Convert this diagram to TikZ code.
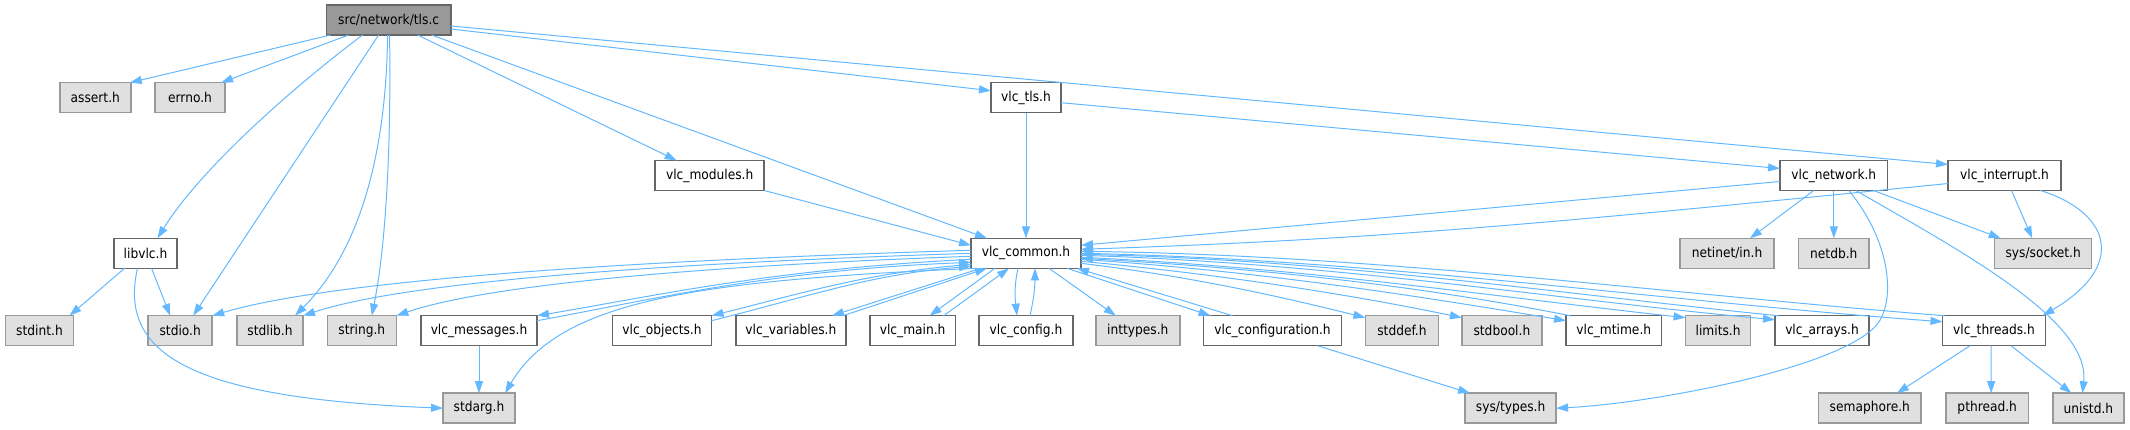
\documentclass[tikz,border=0pt]{standalone}
\usepackage{fontspec}
\setmainfont{DejaVu Sans Condensed}
\usepackage{tikz}
\usetikzlibrary{arrows.meta,calc}
\definecolor{edgeBlue}{HTML}{63B8FF}
\definecolor{boxGray}{HTML}{666666}
\definecolor{sysGray}{HTML}{999999}
\definecolor{sysFill}{HTML}{E0E0E0}

\begin{document}
\begin{tikzpicture}[x=0.75pt, y=-0.75pt,
  font=\fontsize{10.2}{12}\selectfont,
  box/.style={draw, line width=1.1pt, minimum height=22.5pt, inner sep=0pt, outer sep=0pt, minimum width=#1*0.75pt},
  hdr/.style={box=#1, fill=white, draw=boxGray},
  sys/.style={box=#1, fill=sysFill, draw=sysGray},
  src/.style={box=#1, fill=sysGray, draw=boxGray},
  inc/.style={-{Triangle[length=9pt,width=6pt]}, line width=0.75pt, color=edgeBlue}
]
\useasboundingbox (0,0) rectangle (2130,429);
% rows from top to bottom
\def\yA{20} \def\yB{97.7} \def\yC{175.5} \def\yD{253.3} \def\yE{330.7} \def\yF{408.2}
% files
\node[src=124.5] (tls) at (388.6,\yA) {src/network/tls.c};
\node[sys=71] (assert) at (95.3,\yB) {assert.h};
\node[sys=70] (errno) at (190,\yB) {errno.h};
\node[hdr=70] (vlctls) at (1026,\yB) {vlc\_tls.h};
\node[hdr=109] (modules) at (709.7,\yC) {vlc\_modules.h};
\node[hdr=107.5] (network) at (1833.8,\yC) {vlc\_network.h};
\node[hdr=113] (interrupt) at (2004.5,\yC) {vlc\_interrupt.h};
\node[hdr=63] (libvlc) at (145.5,\yD) {libvlc.h};
\node[hdr=110] (common) at (1026,\yD) {vlc\_common.h};
\node[sys=94] (netinet) at (1727,\yD) {netinet/in.h};
\node[sys=70.7] (netdb) at (1833.8,\yD) {netdb.h};
\node[sys=97] (socket) at (2043.2,\yD) {sys/socket.h};
\node[sys=68] (stdint) at (39.5,\yE) {stdint.h};
\node[sys=64] (stdio) at (180.2,\yE) {stdio.h};
\node[sys=66] (stdlib) at (270,\yE) {stdlib.h};
\node[sys=69] (string) at (361.8,\yE) {string.h};
\node[hdr=116] (messages) at (479,\yE) {vlc\_messages.h};
\node[hdr=99] (objects) at (662,\yE) {vlc\_objects.h};
\node[hdr=110] (variables) at (790.9,\yE) {vlc\_variables.h};
\node[hdr=85.4] (main) at (912.6,\yE) {vlc\_main.h};
\node[hdr=93.6] (config) at (1026,\yE) {vlc\_config.h};
\node[sys=84] (inttypes) at (1137.8,\yE) {inttypes.h};
\node[hdr=137.7] (configuration) at (1272.5,\yE) {vlc\_configuration.h};
\node[sys=73] (stddef) at (1401.9,\yE) {stddef.h};
\node[sys=80] (stdbool) at (1501.9,\yE) {stdbool.h};
\node[hdr=95.5] (mtime) at (1613.8,\yE) {vlc\_mtime.h};
\node[sys=65] (limits) at (1718.1,\yE) {limits.h};
\node[hdr=94] (arrays) at (1822,\yE) {vlc\_arrays.h};
\node[hdr=103] (threads) at (1994,\yE) {vlc\_threads.h};
\node[sys=72] (stdarg) at (479,\yF) {stdarg.h};
\node[sys=91] (systypes) at (1510.6,\yF) {sys/types.h};
\node[sys=102.4] (semaphore) at (1869.8,\yF) {semaphore.h};
\node[sys=82.7] (pthread) at (1987.2,\yF) {pthread.h};
\node[sys=71] (unistd) at (2088.4,\yF) {unistd.h};
% includes of tls.c
\draw[inc] ($(tls.south)+(-58,0)$) -- ($(assert.north east)+(-1,0)$);
\draw[inc] ($(tls.south)+(-40,0)$) -- ($(errno.north east)+(-4,0)$);
\draw[inc] ($(tls.south)+(-26,0)$) .. controls +(-72,54) and +(42,-68) .. ($(libvlc.north)+(12,0)$);
\draw[inc] ($(tls.south)+(-10,0)$) -- ($(stdio.north)+(13,0)$);
\draw[inc] ($(tls.south)+(-1,0)$) .. controls +(-2,160) and +(45,-45) .. ($(stdlib.north)+(25,0)$);
\draw[inc] ($(tls.south)+(1,0)$) .. controls +(2,150) and +(10,-50) .. ($(string.north)+(10,0)$);
\draw[inc] ($(tls.south)+(29,0)$) -- ($(modules.north)+(-33,0)$);
\draw[inc] ($(tls.south)+(43,0)$) -- ($(common.north west)+(16,0)$);
\draw[inc] ($(tls.east)+(0,9)$) -- ($(vlctls.west)+(0,-7)$);
\draw[inc] ($(tls.east)+(0,6)$) -- ($(interrupt.west)+(0,-11)$);
% second level
\draw[inc] (vlctls.south) -- (common.north);
\draw[inc] ($(vlctls.east)+(0,5)$) -- ($(network.west)+(0,-7)$);
\draw[inc] (modules.south east) -- ($(common.west)+(0,-8)$);
\draw[inc] ($(network.west)+(0,6)$) -- ($(common.east)+(0,-8)$);
\draw[inc] ($(interrupt.west)+(0,8)$) .. controls +(-400,40) and +(300,-10) .. ($(common.east)+(0,-4)$);
\draw[inc] ($(network.south)+(-20,0)$) -- ($(netinet.north)+(23,0)$);
\draw[inc] (network.south) -- (netdb.north);
\draw[inc] ($(network.south)+(15,0)$) .. controls +(41,50) and +(15,-25) .. ($(network.south)+(46,130)$)
  .. controls +(-27,45) and +(100,-5) .. (systypes.east);
\draw[inc] ($(network.south)+(22,0)$) .. controls +(104,60) and +(8,-73) .. ($(unistd.north)+(-6,0)$);
\draw[inc] ($(network.south east)+(-14,0)$) -- ($(socket.north west)+(6,0)$);
\draw[inc] ($(interrupt.south)+(7,0)$) -- ($(socket.north)+(-11,0)$);
\draw[inc] ($(interrupt.south)+(36,0)$) .. controls +(70,22) and +(85,-50) .. ($(threads.north east)+(-3,0)$);
\draw[inc] ($(threads.south)+(-24,0)$) -- ($(semaphore.north)+(27,0)$);
\draw[inc] ($(threads.south)+(-3,0)$) -- ($(pthread.north)+(4,0)$);
\draw[inc] ($(threads.south)+(17,0)$) -- ($(unistd.north)+(-17,0)$);
\draw[inc] ($(configuration.south)+(45,0)$) -- ($(systypes.north west)+(5,0)$);
\draw[inc] (messages.south) -- (stdarg.north);
\draw[inc] ($(libvlc.south)+(-21,0)$) -- ($(stdint.north)+(30,0)$);
\draw[inc] ($(libvlc.south)+(6,0)$) -- ($(stdio.north)+(-10,0)$);
\draw[inc] ($(libvlc.south)+(-8,0)$) .. controls +(-20,87) and +(-250,-10) .. (stdarg.west);
% vlc_common.h to the left
\draw[inc] ($(common.west)+(0,-3)$) .. controls +(-270,8) and +(135,-40) .. (stdio.north east);
\draw[inc] ($(common.west)+(0,0)$) .. controls +(-250,8) and +(115,-38) .. (stdlib.north east);
\draw[inc] ($(common.west)+(0,3)$) .. controls +(-230,8) and +(100,-34) .. (string.north east);
\draw[inc] ($(common.west)+(0,6)$) .. controls +(-200,10) and +(120,-20) .. (messages.north east);
\draw[inc] ($(messages.east)+(0,-10)$) .. controls +(120,-22) and +(-200,8) .. ($(common.west)+(0,9)$);
\draw[inc] ($(common.west)+(0,11)$) .. controls +(-100,8) and +(100,-25) .. (objects.north east);
\draw[inc] ($(objects.east)+(0,-10)$) .. controls +(100,-25) and +(-100,8) .. ($(common.south west)+(0,-2)$);
\draw[inc] ($(common.south west)+(6,0)$) .. controls +(-280,12) and +(55,-93) .. ($(stdarg.north east)+(-10,0)$);
\draw[inc] ($(common.south west)+(10,0)$) -- ($(variables.north)+(41,0)$);
\draw[inc] ($(variables.north)+(52,0)$) -- ($(common.south west)+(16,0)$);
\draw[inc] ($(common.south west)+(24,0)$) -- ($(main.north)+(17,0)$);
\draw[inc] ($(main.north)+(31,0)$) -- ($(common.south west)+(38,0)$);
\draw[inc] ($(common.south)+(-8,0)$) .. controls +(-4,18) and +(-2,-18) .. ($(config.north)+(-9,0)$);
\draw[inc] ($(config.north)+(4,0)$) .. controls +(4,-18) and +(0,18) .. ($(common.south)+(9,0)$);
% vlc_common.h to the right
\draw[inc] ($(common.south)+(23,0)$) -- ($(inttypes.north)+(-22,0)$);
\draw[inc] ($(common.south east)+(-14,0)$) -- ($(configuration.north)+(-62,0)$);
\draw[inc] ($(configuration.north)+(-40,0)$) -- ($(common.south east)+(-4,0)$);
\draw[inc] ($(common.east)+(0,10)$) .. controls +(100,12) and +(-100,-25) .. ($(stddef.west)+(0,-13)$);
\draw[inc] ($(common.east)+(0,8)$) .. controls +(130,12) and +(-120,-25) .. ($(stdbool.west)+(0,-13)$);
\draw[inc] ($(common.east)+(0,6)$) .. controls +(180,12) and +(-150,-25) .. ($(mtime.west)+(0,-10)$);
\draw[inc] ($(mtime.north west)+(4,0)$) .. controls +(-150,-30) and +(180,10) .. ($(common.east)+(0,5)$);
\draw[inc] ($(common.east)+(0,4)$) .. controls +(220,10) and +(-200,-22) .. ($(limits.west)+(0,-13)$);
\draw[inc] ($(common.east)+(0,2)$) .. controls +(260,8) and +(-220,-20) .. ($(arrays.west)+(0,-11)$);
\draw[inc] ($(arrays.north west)+(3,0)$) .. controls +(-220,-22) and +(260,6) .. ($(common.east)+(0,1)$);
\draw[inc] ($(common.east)+(0,0)$) .. controls +(300,6) and +(-280,-20) .. ($(threads.west)+(0,-9)$);
\draw[inc] ($(threads.north west)+(2,0)$) .. controls +(-280,-22) and +(300,4) .. ($(common.east)+(0,-2)$);
\end{tikzpicture}
\end{document}
